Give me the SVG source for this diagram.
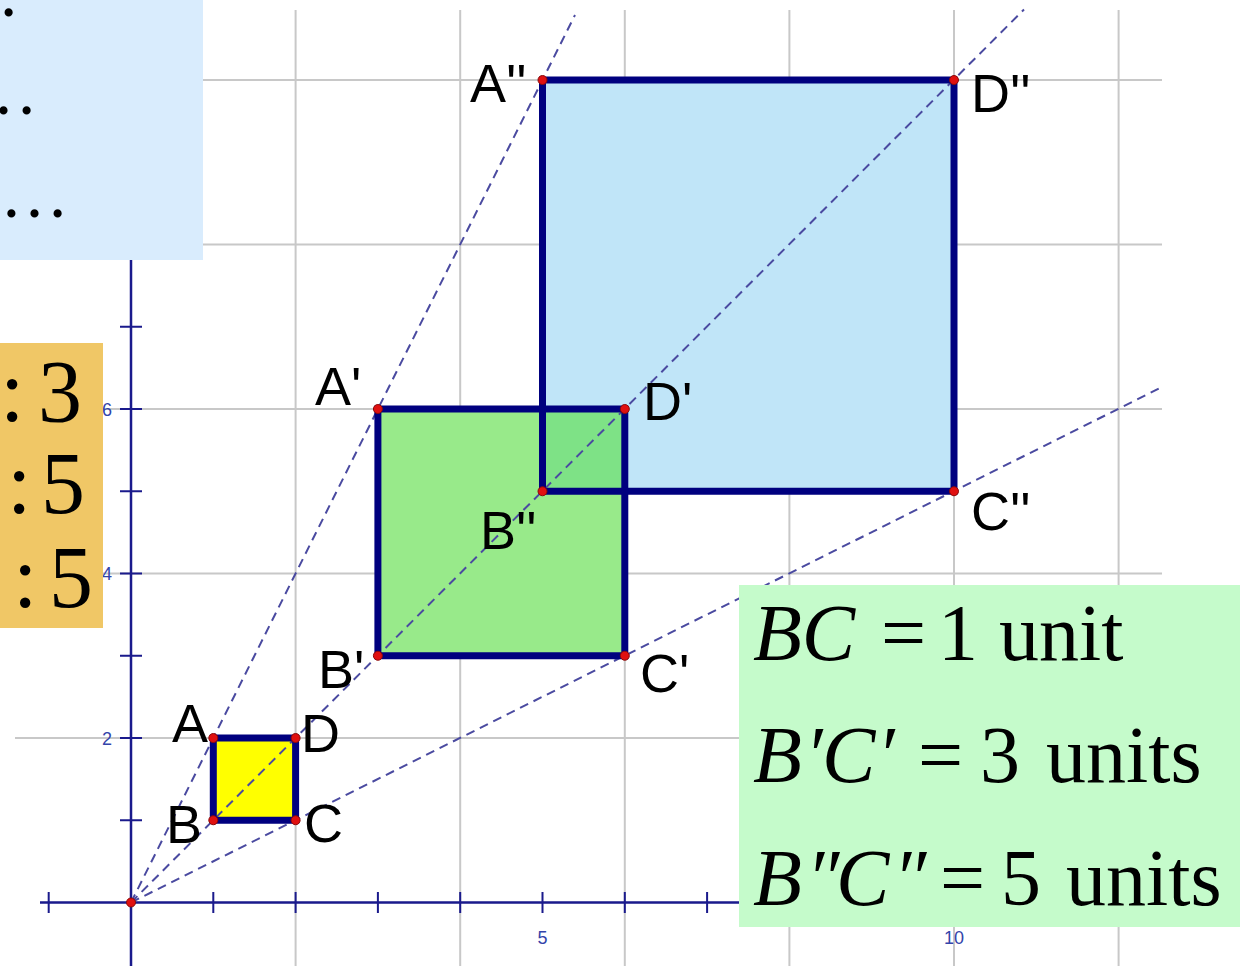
<svg xmlns="http://www.w3.org/2000/svg" width="1243" height="966" viewBox="0 0 1243 966">
<style>
.grid{stroke:#c8c8c8;stroke-width:2;fill:none}
.axis{stroke:#1a1a8c;stroke-width:2.5;fill:none}
.tick{stroke:#1a1a8c;stroke-width:2;fill:none}
.ray{stroke:#4a4aa0;stroke-width:2;stroke-dasharray:9 6;fill:none}
.edge{stroke:#00007f;stroke-width:7;fill:none;stroke-linejoin:miter}
.pt{fill:#e01010;stroke:#8a0a0a;stroke-width:1}
.lbl{font-family:"Liberation Sans",Arial,sans-serif;font-size:54px;fill:#000}
.num{font-family:"Liberation Sans",Arial,sans-serif;font-size:18px;fill:#3344aa}
.big{font-family:"Liberation Serif","Times New Roman",serif;fill:#000}
.it{font-style:italic}
</style>
<rect width="1243" height="966" fill="#fff"/>
<g id="grid">
<path class="grid" d="M295.6 10V966M460.2 10V966M624.8 10V966M789.4 10V966M954 10V966M1118.6 10V966"/>
<path class="grid" d="M15 738H1162M15 573.5H1162M15 409H1162M15 244.5H1162M15 80H1162"/>
</g>
<g id="axes">
<path class="axis" d="M40 902.5H1162M131 10V966"/>
<path class="tick" d="M48.7 892V913M213.3 892V913M295.6 892V913M377.9 892V913M460.2 892V913M542.5 892V913M624.8 892V913M707.1 892V913M789.4 892V913M871.7 892V913M954 892V913M1036.3 892V913M1118.6 892V913"/>
<path class="tick" d="M120 820.25H142M120 738H142M120 655.75H142M120 573.5H142M120 491.25H142M120 409H142M120 326.75H142M120 244.5H142M120 162.25H142M120 80H142"/>
<text class="num" x="102" y="745">2</text>
<text class="num" x="102" y="580">4</text>
<text class="num" x="102" y="416">6</text>
<text class="num" x="542.5" y="944" text-anchor="middle">5</text>
<text class="num" x="954" y="944" text-anchor="middle">10</text>
</g>
<g id="fills">
<rect x="213.3" y="738" width="82.3" height="82.25" fill="#ffff00"/>
<rect x="377.9" y="409" width="246.9" height="246.75" fill="#98ea8a"/>
<rect x="542.5" y="80" width="411.5" height="411.25" fill="#c0e5f8"/>
<rect x="542.5" y="409" width="82.3" height="82.25" fill="#7ee286"/>
</g>
<g id="connectors">
<path class="ray" d="M131 902.5L575 15"/>
<path class="ray" d="M131 902.5L1024 9.5"/>
<path class="ray" d="M131 902.5L1162 387"/>
</g>
<g id="square-ABCD">
<rect class="edge" x="213.3" y="738" width="82.3" height="82.25"/>
</g>
<g id="square-A1B1C1D1">
<rect class="edge" x="377.9" y="409" width="246.9" height="246.75"/>
</g>
<g id="square-A2B2C2D2">
<rect class="edge" x="542.5" y="80" width="411.5" height="411.25"/>
</g>
<g id="points">
<circle class="pt" cx="131" cy="902.5" r="4.5"/>
<circle class="pt" cx="213.3" cy="738" r="4.5"/>
<circle class="pt" cx="213.3" cy="820.25" r="4.5"/>
<circle class="pt" cx="295.6" cy="820.25" r="4.5"/>
<circle class="pt" cx="295.6" cy="738" r="4.5"/>
<circle class="pt" cx="377.9" cy="409" r="4.5"/>
<circle class="pt" cx="377.9" cy="655.75" r="4.5"/>
<circle class="pt" cx="624.8" cy="655.75" r="4.5"/>
<circle class="pt" cx="624.8" cy="409" r="4.5"/>
<circle class="pt" cx="542.5" cy="80" r="4.5"/>
<circle class="pt" cx="542.5" cy="491.25" r="4.5"/>
<circle class="pt" cx="954" cy="491.25" r="4.5"/>
<circle class="pt" cx="954" cy="80" r="4.5"/>
</g>
<g id="labels">
<text class="lbl" x="172" y="742">A</text>
<text class="lbl" x="166" y="843">B</text>
<text class="lbl" x="304" y="842">C</text>
<text class="lbl" x="301" y="752">D</text>
<text class="lbl" x="315" y="405">A'</text>
<text class="lbl" x="643" y="420">D'</text>
<text class="lbl" x="318" y="688">B'</text>
<text class="lbl" x="640" y="692">C'</text>
<text class="lbl" x="480" y="549">B''</text>
<text class="lbl" x="470" y="102">A''</text>
<text class="lbl" x="971" y="112">D''</text>
<text class="lbl" x="971" y="530">C''</text>
</g>
<g id="box-blue">
<rect x="0" y="0" width="203" height="260" fill="#d9ecfd"/>
<text class="big" font-size="69" x="0" y="16">.</text>
<text class="big" font-size="69" x="-31" y="114">…</text>
<text class="big" font-size="69" x="0" y="217">…</text>
</g>
<g id="box-orange">
<rect x="0" y="343" width="103" height="285" fill="#f0c766"/>
<text class="big" font-size="88" y="421"><tspan x="0">:</tspan><tspan x="38">3</tspan></text>
<text class="big" font-size="88" y="513"><tspan x="7">:</tspan><tspan x="41">5</tspan></text>
<text class="big" font-size="88" y="607"><tspan x="13">:</tspan><tspan x="49">5</tspan></text>
</g>
<g id="box-green">
<rect x="739" y="585" width="501" height="342" fill="#c5fbcb"/>
<text class="big" font-size="80" y="660"><tspan class="it" x="753">BC</tspan><tspan x="881">=</tspan><tspan x="938">1</tspan><tspan x="999">unit</tspan></text>
<text class="big" font-size="80" y="782"><tspan class="it" x="753">B</tspan><tspan class="it" x="805">′</tspan><tspan class="it" x="822">C</tspan><tspan class="it" x="877">′</tspan><tspan x="918">=</tspan><tspan x="980">3</tspan><tspan x="1046">units</tspan></text>
<text class="big" font-size="80" y="905"><tspan class="it" x="753">B</tspan><tspan class="it" x="806">″</tspan><tspan class="it" x="836">C</tspan><tspan class="it" x="893">″</tspan><tspan x="940">=</tspan><tspan x="1001">5</tspan><tspan x="1066">units</tspan></text>
</g>
</svg>
